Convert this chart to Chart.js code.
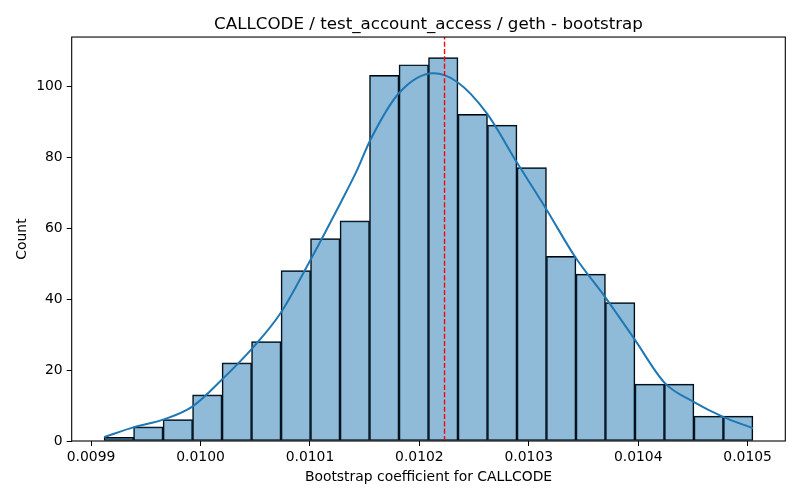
<!DOCTYPE html>
<html>
<head>
<meta charset="utf-8">
<script src="https://cdn.jsdelivr.net/npm/chart.js@4.4.0/dist/chart.umd.min.js"></script>
<style>
  html, body { margin: 0; padding: 0; background: #fff; }
  canvas { display: block; }
</style>
</head>
<body>
<canvas id="chart" width="800" height="500"></canvas>
<script>
// histogram bins (22 equal bins)
const binStart = 0.0099119;
const binWidth = 0.00002695;
const binCounts = [1, 4, 6, 13, 22, 28, 48, 57, 62, 103, 106, 108, 92, 89, 77, 52, 47, 39, 16, 16, 7, 7];

// kde curve
const kdeX = [0.00991186, 0.00993923, 0.00996661, 0.00999252, 0.01001989, 0.01004726, 0.01007308,
  0.01010047, 0.01011113, 0.01012783, 0.01014307, 0.01015520, 0.01018102, 0.01021296, 0.01023431,
  0.01026168, 0.01028905, 0.01031642, 0.01034224, 0.01036962, 0.01039699, 0.01042436, 0.01045018,
  0.01047755, 0.01050493];
const kdeY = [1.1, 3.9, 6.1, 9.7, 17.4, 26.1, 36.0, 51.0, 57.1, 67.0, 76.3, 84.8, 97.9, 103.6, 101.2,
  92.3, 78.5, 65.1, 51.9, 40.6, 28.5, 16.3, 11.1, 6.8, 3.6];

const meanValue = 0.010223;

const xTicks = [0.0099, 0.0100, 0.0101, 0.0102, 0.0103, 0.0104, 0.0105];
const yTicks = [0, 20, 40, 60, 80, 100];
const xMin = 0.0098823, xMax = 0.0105344;
const yMin = 0, yMax = 113.8;

const histData = binCounts.map((c, i) => ({ x: binStart + (i + 0.5) * binWidth, y: c }));
const kdeData = kdeX.map((x, i) => ({ x: x, y: kdeY[i] }));

Chart.defaults.font.family = '"DejaVu Sans", sans-serif';
Chart.defaults.color = '#000';

// matplotlib style box around the axes, title centred over the axes
const boxPlugin = {
  id: 'box',
  afterLayout(chart) {
    const t = chart.titleBlock;
    if (t) {
      t.left = chart.chartArea.left;
      t.right = chart.chartArea.right;
    }
  },
  afterDraw(chart) {
    const { ctx, chartArea: a } = chart;
    ctx.save();
    ctx.strokeStyle = '#000';
    ctx.lineWidth = 1.1;
    ctx.strokeRect(a.left, a.top, a.right - a.left, a.bottom - a.top);
    ctx.restore();
  }
};

new Chart(document.getElementById('chart').getContext('2d'), {
  type: 'bar',
  data: {
    datasets: [
      {
        type: 'line',
        data: [{ x: meanValue, y: yMin }, { x: meanValue, y: yMax }],
        borderColor: 'red',
        borderWidth: 1.4,
        borderDash: [5.1, 2.2],
        pointRadius: 0,
        order: 0
      },
      {
        type: 'line',
        data: kdeData,
        borderColor: '#1f77b4',
        borderWidth: 2,
        pointRadius: 0,
        cubicInterpolationMode: 'monotone',
        order: 1
      },
      {
        type: 'bar',
        data: histData,
        backgroundColor: 'rgba(31,119,180,0.5)',
        borderColor: '#000',
        borderWidth: 1,
        borderSkipped: false,
        barPercentage: 1,
        categoryPercentage: 1,
        grouped: false,
        order: 2
      }
    ]
  },
  options: {
    responsive: false,
    animation: false,
    layout: { padding: { left: 0, right: 14.7, top: 0, bottom: 0 } },
    plugins: {
      legend: { display: false },
      tooltip: { enabled: false },
      title: {
        display: true,
        text: 'CALLCODE / test_account_access / geth - bootstrap',
        font: { size: 16.7, weight: 'normal' },
        padding: { top: 15, bottom: 2 }
      }
    },
    scales: {
      x: {
        type: 'linear',
        min: xMin,
        max: xMax,
        offset: false,
        afterBuildTicks: (s) => { s.ticks = xTicks.map(v => ({ value: v })); },
        afterFit: (s) => { s.height = 59; },
        ticks: {
          font: { size: 13.9 },
          padding: 3,
          maxRotation: 0,
          autoSkip: false,
          callback: (v) => v.toFixed(4)
        },
        grid: { display: true, drawOnChartArea: false, offset: false, tickLength: 5, tickColor: '#000' },
        border: { display: false },
        title: {
          display: true,
          text: 'Bootstrap coefficient for CALLCODE',
          font: { size: 13.9 },
          padding: { top: 0, bottom: 14 }
        }
      },
      y: {
        min: yMin,
        max: yMax,
        afterBuildTicks: (s) => { s.ticks = yTicks.map(v => ({ value: v })); },
        afterFit: (s) => { s.width = 71.7; },
        ticks: { font: { size: 13.9 }, padding: 4, autoSkip: false },
        grid: { display: true, drawOnChartArea: false, tickLength: 5, tickColor: '#000' },
        border: { display: false },
        title: {
          display: true,
          text: 'Count',
          font: { size: 13.9 },
          padding: { top: 13.6, bottom: 0 }
        }
      }
    }
  },
  plugins: [boxPlugin]
});
</script>
</body>
</html>
